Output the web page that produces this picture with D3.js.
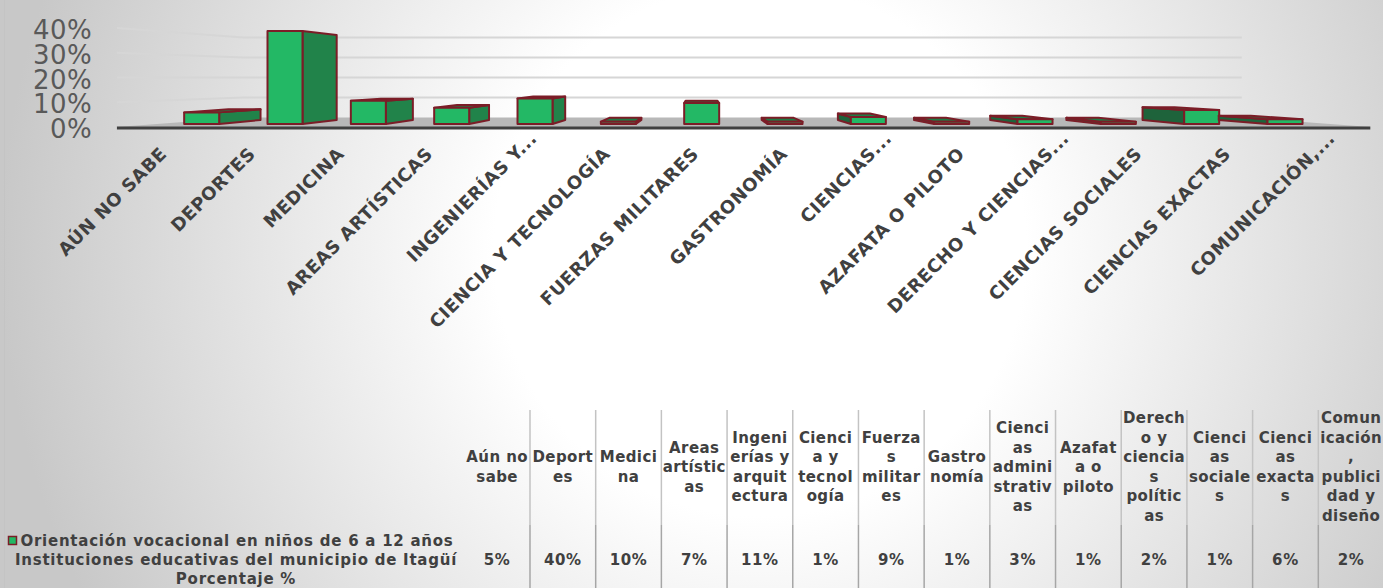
<!DOCTYPE html>
<html>
<head>
<meta charset="utf-8">
<script src="https://cdn.jsdelivr.net/npm/d3@7"></script>
<style>
body { margin: 0; background: #fff; }
svg { display: block; font-family: "DejaVu Sans", sans-serif; }
</style>
</head>
<body>
<div id="chart"></div>
<script>
var categories = ["Aún no sabe", "Deportes", "Medicina", "Areas artísticas", "Ingenierías y arquitectura",
    "Ciencia y tecnología", "Fuerzas militares", "Gastronomía", "Ciencias administrativas", "Azafata o piloto",
    "Derecho y ciencias políticas", "Ciencias sociales", "Ciencias exactas", "Comunicación, publicidad y diseño"];
var values = [5, 40, 10, 7, 11, 1, 9, 1, 3, 1, 2, 1, 6, 2];
var axisLabels = ["AÚN NO SABE", "DEPORTES", "MEDICINA", "AREAS ARTÍSTICAS", "INGENIERÍAS Y...",
    "CIENCIA Y TECNOLOGÍA", "FUERZAS MILITARES", "GASTRONOMÍA", "CIENCIAS...", "AZAFATA O PILOTO",
    "DERECHO Y CIENCIAS...", "CIENCIAS SOCIALES", "CIENCIAS EXACTAS", "COMUNICACIÓN,..."];
var tableHeaders = [["Aún no", "sabe"], ["Deport", "es"], ["Medici", "na"], ["Areas", "artístic", "as"],
    ["Ingeni", "erías y", "arquit", "ectura"], ["Cienci", "a y", "tecnol", "ogía"], ["Fuerza", "s", "militar", "es"],
    ["Gastro", "nomía"], ["Cienci", "as", "admini", "strativ", "as"], ["Azafat", "a o", "piloto"],
    ["Derech", "o y", "ciencia", "s", "polític", "as"], ["Cienci", "as", "sociale", "s"], ["Cienci", "as", "exacta", "s"],
    ["Comun", "icación", ",", "publici", "dad y", "diseño"]];
var yTicks = [0, 10, 20, 30, 40];
var seriesName = ["Orientación vocacional en niños de 6 a 12 años", "Instituciones educativas del municipio de Itagüí", "Porcentaje %"];

var w = 1383, h = 588;
var svg = d3.select("#chart").append("svg").attr("width", w).attr("height", h);

// background
var defs = svg.append("defs");
var grad = defs.append("radialGradient").attr("id", "bg")
    .attr("gradientUnits", "userSpaceOnUse")
    .attr("cx", 760).attr("cy", 250).attr("r", 760);
grad.append("stop").attr("offset", "0").attr("stop-color", "#ffffff");
grad.append("stop").attr("offset", "0.35").attr("stop-color", "#ffffff");
grad.append("stop").attr("offset", "1").attr("stop-color", "#c8c8c8");
svg.append("rect").attr("width", w).attr("height", h).attr("fill", "url(#bg)");
svg.append("line").attr("x1", 4.5).attr("x2", 4.5).attr("y1", 0).attr("y2", h)
    .attr("stroke", "#c4c4c4").attr("stroke-width", 1);

// scales (front plane of the bars)
var x = d3.scaleBand().domain(categories).range([160, 1326.7]).paddingInner(0.58).paddingOuter(0.29);
var y = d3.scaleLinear().domain([0, 40]).range([124, 31]);

// simple one point perspective
var vx = 700, vy = 77;
var sBar = 0.914, sWall = 0.86, sFloor = 1.064;
var sideLeft = 152, wallLeft = 169, wallRight = 1330;
function P(X, Y, s) { return [vx + (X - vx) * s, vy + (Y - vy) * s]; }
function pts(list) { return list.map(function (p) { return p.join(","); }).join(" "); }

// floor
var y0 = y(0);
svg.append("polygon")
    .attr("points", pts([P(sideLeft, y0, sFloor), P(wallLeft, y0, sWall), P(wallRight, y0, sWall), P(wallRight, y0, sFloor)]))
    .attr("fill", "#b8b8b8");
var fl = P(sideLeft, y0, sFloor), fr = P(wallRight, y0, sFloor);
svg.append("line").attr("x1", fl[0]).attr("y1", fl[1] + 1).attr("x2", fr[0]).attr("y2", fr[1] + 1)
    .attr("stroke", "#404040").attr("stroke-width", 3);

// gridlines on side + back wall
svg.selectAll(".grid")
    .data(yTicks.filter(function (d) { return d > 0; }))
    .enter().append("polyline")
    .attr("class", "grid")
    .attr("points", function (d) {
        return pts([P(sideLeft, y(d), sFloor), P(wallLeft, y(d), sWall), P(wallRight, y(d), sWall)]);
    })
    .attr("fill", "none")
    .attr("stroke", "#d6d6d6")
    .attr("stroke-width", 2);

// y labels
svg.selectAll(".ylab")
    .data(yTicks)
    .enter().append("text")
    .attr("class", "ylab")
    .attr("x", 92)
    .attr("y", function (d) { return P(sideLeft, y(d), sFloor)[1] + 2; })
    .attr("text-anchor", "end")
    .attr("dominant-baseline", "central")
    .attr("font-size", "26px")
    .attr("letter-spacing", "0.4px")
    .attr("fill", "#595959")
    .text(function (d) { return d + "%"; });

// 3d bars
var bw = x.bandwidth();
var bars = svg.selectAll(".bar")
    .data(categories.map(function (c, i) { return { cat: c, v: values[i] }; }))
    .enter().append("g").attr("class", "bar");

bars.each(function (d) {
    var g = d3.select(this);
    var X0 = x(d.cat), X1 = X0 + bw, Yt = y(d.v), Yb = y(0);
    var stroke = "#7b1d27";
    if (X1 < vx) {
        g.append("polygon")
            .attr("points", pts([P(X1, Yt, 1), P(X1, Yt, sBar), P(X1, Yb, sBar), P(X1, Yb, 1)]))
            .attr("fill", "#21834a").attr("stroke", stroke).attr("stroke-width", 2).attr("stroke-linejoin", "round");
    } else if (X0 > vx) {
        g.append("polygon")
            .attr("points", pts([P(X0, Yt, 1), P(X0, Yt, sBar), P(X0, Yb, sBar), P(X0, Yb, 1)]))
            .attr("fill", "#1e633b").attr("stroke", stroke).attr("stroke-width", 2).attr("stroke-linejoin", "round");
    }
    if (Yt > vy) {
        g.append("polygon")
            .attr("points", pts([P(X0, Yt, 1), P(X1, Yt, 1), P(X1, Yt, sBar), P(X0, Yt, sBar)]))
            .attr("fill", "#1f7d47").attr("stroke", stroke).attr("stroke-width", 2).attr("stroke-linejoin", "round");
    }
    g.append("rect")
        .attr("x", X0).attr("y", Yt).attr("width", bw).attr("height", Yb - Yt)
        .attr("fill", "#23b865").attr("stroke", stroke).attr("stroke-width", 2).attr("stroke-linejoin", "round");
});

// category labels
svg.selectAll(".xlab")
    .data(categories)
    .enter().append("text")
    .attr("class", "xlab")
    .attr("transform", function (d) {
        var p = P(x(d) + bw / 2, y(0), sFloor);
        return "translate(" + (p[0] - 2) + ",155)rotate(-45)";
    })
    .attr("dx", function (d, i) { return axisLabels[i].slice(-3) === "..." ? 22 : 0; })
    .attr("text-anchor", "end")
    .attr("font-size", "18px")
    .attr("font-weight", "bold")
    .attr("letter-spacing", "0.5px")
    .attr("fill", "#404040")
    .text(function (d, i) { return axisLabels[i]; });

// data table
var col = d3.scaleBand().domain(categories).range([464.3, 1384]);
var tableTop = 410, headMid = 467, rowY = 560, lh = 19.5;

svg.selectAll(".vline")
    .data(categories.slice(1))
    .enter().append("line")
    .attr("x1", function (d) { return col(d); })
    .attr("x2", function (d) { return col(d); })
    .attr("y1", tableTop).attr("y2", 525)
    .attr("stroke", "#c3c3c3").attr("stroke-width", 1.5);
svg.selectAll(".vline2")
    .data(categories.slice(1))
    .enter().append("line")
    .attr("x1", function (d) { return col(d); })
    .attr("x2", function (d) { return col(d); })
    .attr("y1", 525).attr("y2", h)
    .attr("stroke", "#a6a6a6").attr("stroke-width", 1.5);

var heads = svg.selectAll(".head")
    .data(categories)
    .enter().append("text")
    .attr("class", "head")
    .attr("text-anchor", "middle")
    .attr("font-size", "15px")
    .attr("font-weight", "bold")
    .attr("letter-spacing", "0.4px")
    .attr("fill", "#404040");
heads.each(function (d, i) {
    var lines = tableHeaders[i];
    var t = d3.select(this);
    lines.forEach(function (line, k) {
        t.append("tspan")
            .attr("x", col(d) + col.bandwidth() / 2)
            .attr("y", headMid + (k - (lines.length - 1) / 2) * lh)
            .attr("dominant-baseline", "central")
            .text(line);
    });
});

svg.selectAll(".val")
    .data(categories)
    .enter().append("text")
    .attr("class", "val")
    .attr("x", function (d) { return col(d) + col.bandwidth() / 2; })
    .attr("y", rowY)
    .attr("text-anchor", "middle")
    .attr("dominant-baseline", "central")
    .attr("font-size", "15px")
    .attr("font-weight", "bold")
    .attr("letter-spacing", "0.6px")
    .attr("fill", "#404040")
    .text(function (d, i) { return values[i] + "%"; });

// legend / series name
svg.append("rect").attr("x", 8.5).attr("y", 536.5).attr("width", 8).attr("height", 8)
    .attr("fill", "#23b865").attr("stroke", "#7b1d27").attr("stroke-width", 1.5);
svg.selectAll(".series")
    .data(seriesName)
    .enter().append("text")
    .attr("class", "series")
    .attr("x", function (d, i) { return i === 0 ? 237 : 236; })
    .attr("y", function (d, i) { return 540.5 + i * 19; })
    .attr("text-anchor", "middle")
    .attr("dominant-baseline", "central")
    .attr("font-size", "15px")
    .attr("font-weight", "bold")
    .attr("letter-spacing", "0.75px")
    .attr("fill", "#404040")
    .text(function (d) { return d; });
</script>
</body>
</html>
